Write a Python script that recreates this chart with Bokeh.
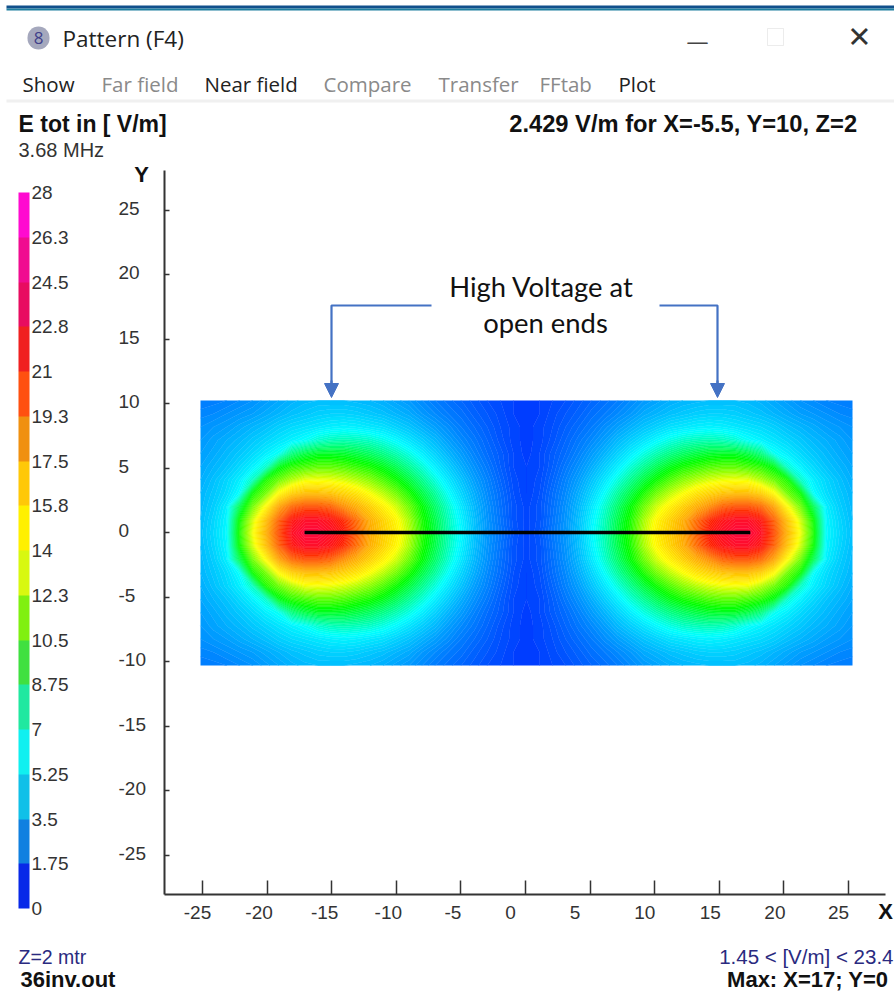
import numpy as np
from bokeh.embed import file_html
from bokeh.resources import INLINE
from bokeh.plotting import figure
from bokeh.core.properties import value
from bokeh.models import (Range1d, Label, BoxAnnotation, ColorBar, LinearColorMapper, FixedTicker,
                          Arrow, NormalHead)

# ---- data ----
menu_items = ["Show", "Far field", "Near field", "Compare", "Transfer", "FFtab", "Plot"]
x_ticks = [-25, -20, -15, -10, -5, 0, 5, 10, 15, 20, 25]
y_ticks = [-25, -20, -15, -10, -5, 0, 5, 10, 15, 20, 25]
scale_ticks = [0, 1.75, 3.5, 5.25, 7, 8.75, 10.5, 12.25, 14, 15.75, 17.5, 19.25, 21, 22.75, 24.5, 26.25, 28]
scale_labels = ["0", "1.75", "3.5", "5.25", "7", "8.75", "10.5", "12.3", "14", "15.8", "17.5", "19.3", "21", "22.8", "24.5", "26.3", "28"]
scale_colors = ["#0828e8", "#1080e0", "#10c0e8", "#10f0f0", "#20e8a0", "#40e040", "#80f010", "#d8f810",
                "#fff000", "#ffc808", "#f09010", "#ff5010", "#f02020", "#e80c60", "#f00c90", "#ff0ad0"]
wire_x = [-17.1, 17.4]
wire_y = [0, 0]
grid_x = list(range(-25, 26))
grid_y = list(range(-10, 11))

# field magnitude, one quadrant: rows Y=0..10, columns |X|=0..25
field_quadrant = [
 [1.8,2.3,3.2,4.1,5.3,6.8,8.0,9.6,11.0,13.0,14.5,15.6,16.8,19.0,21.5,22.6,23.4,23.4,22.4,19.6,16.5,13.8,10.9,6.8,5.9,5.2],
 [1.8,2.2,3.1,4.0,5.2,6.6,7.9,9.4,10.8,12.7,14.2,15.4,16.6,18.6,20.5,21.8,22.5,22.5,21.5,19.0,16.0,13.3,10.6,6.7,5.8,5.1],
 [1.8,2.2,3.0,3.9,5.0,6.3,7.6,9.0,10.4,11.9,13.3,14.4,15.5,16.6,17.7,19.0,19.5,19.5,18.8,17.0,14.1,12.0,9.4,6.5,5.6,5.0],
 [1.7,2.1,2.9,3.7,4.7,5.8,7.0,8.3,9.5,10.8,12.0,13.0,13.9,14.8,15.4,15.9,16.1,16.1,15.5,14.1,12.0,10.6,7.0,6.0,5.4,4.9],
 [1.7,2.0,2.7,3.5,4.3,5.3,6.3,7.4,8.5,9.6,10.6,11.5,12.3,12.9,13.4,13.7,13.8,13.7,12.9,11.9,10.8,7.8,6.5,5.8,5.2,4.7],
 [1.7,1.9,2.5,3.2,3.9,4.7,5.6,6.5,7.5,8.4,9.3,10.1,10.7,11.1,11.5,11.7,11.7,11.4,11.0,10.1,7.6,6.6,5.9,5.3,4.9,4.5],
 [1.6,1.9,2.4,2.9,3.5,4.2,4.9,5.7,6.5,7.3,8.0,8.6,9.1,9.5,9.8,9.9,9.9,9.5,8.7,7.1,6.5,5.9,5.4,5.0,4.6,4.3],
 [1.6,1.8,2.2,2.7,3.2,3.7,4.3,5.0,5.6,6.2,6.8,7.3,7.7,7.9,8.0,7.9,7.6,7.0,6.6,6.2,5.8,5.4,5.0,4.7,4.4,4.1],
 [1.6,1.8,2.1,2.5,2.9,3.3,3.8,4.3,4.8,5.3,5.7,6.1,6.3,6.5,6.6,6.5,6.3,6.1,5.9,5.6,5.2,4.9,4.6,4.3,4.1,3.9],
 [1.6,1.7,2.0,2.3,2.6,3.0,3.3,3.7,4.1,4.6,4.9,5.2,5.4,5.6,5.7,5.7,5.6,5.4,5.2,4.9,4.6,4.3,4.1,3.9,3.7,3.6],
 [1.6,1.7,1.9,2.1,2.4,2.7,3.0,3.3,3.7,4.1,4.4,4.7,4.9,5.0,5.1,5.1,5.1,5.0,4.8,4.5,4.2,3.9,3.7,3.5,3.4,3.3],
]

# ---- geometry: the frame fills the canvas, so the axes are placed at fixed data positions ----
W, H = 894, 993
L, R, T, B = 164, 885, 170, 894   # where the axis lines run, in page pixels
x0, y0 = 525.0, 532.0
xs, ys = 12.92, 12.9
PX = lambda px: (px - x0) / xs
PY = lambda py: (y0 - py) / ys

p = figure(width=W, height=H, output_backend="svg", toolbar_location=None,
           x_range=Range1d(PX(0), PX(W)), y_range=Range1d(PY(H), PY(0)),
           min_border=0, background_fill_color="white", border_fill_color="white", outline_line_color=None)
p.grid.visible = False

# axes
for ax, ticks in ((p.xaxis[0], x_ticks), (p.yaxis[0], y_ticks)):
    ax.ticker = FixedTicker(ticks=ticks)
    ax.major_label_overrides = {t: "" for t in ticks}
    ax.axis_line_color = "#333333"
    ax.axis_line_width = 2
    ax.major_tick_line_color = "#333333"
    ax.major_tick_line_width = 1.5
    ax.minor_tick_line_color = None
    ax.major_tick_out = 0
p.xaxis[0].fixed_location = PY(B)
p.xaxis[0].bounds = (PX(L), PX(R))
p.xaxis[0].major_tick_in = 14
p.yaxis[0].fixed_location = PX(L)
p.yaxis[0].bounds = (PY(B), PY(T))
p.yaxis[0].major_tick_in = 5

# tick labels (the picture sets them left of the ticks, unevenly)
x_label_shift = [-5, -8, -7, -8, -8, -15, -15, -10, -9, -9, -10]
p.text(x=x_ticks, y=[PY(912)] * len(x_ticks), text=[str(t) for t in x_ticks], x_offset=x_label_shift,
       text_font=value("Liberation Sans"), text_font_size="19px", text_color="#333333",
       text_align="center", text_baseline="middle")
p.text(x=[PX(118)] * len(y_ticks), y=y_ticks, text=[str(t) for t in y_ticks], y_offset=-2,
       text_font=value("Liberation Sans"), text_font_size="19px", text_color="#333333",
       text_align="left", text_baseline="middle")

# field map, drawn as finely spaced filled contours of the estimated grid
top = np.array(field_quadrant)
right = np.vstack([top[:0:-1], top])          # Y = -10..10
full = np.hstack([right[:, :0:-1], right])    # X = -25..25
anchors = [(0, (0, 0, 255)), (7, (0, 255, 255)), (10.5, (0, 255, 0)), (14, (255, 255, 0)),
           (17.5, (255, 150, 0)), (21, (255, 30, 0)), (24.5, (255, 0, 90)), (28, (255, 0, 255))]
levels = list(np.arange(1.5, 23.6, 0.2))
mids = np.array(levels)
chan = [np.interp(mids, [a[0] for a in anchors], [a[1][i] for a in anchors]) for i in range(3)]
line_cols = ["#%02x%02x%02x" % (int(r), int(g), int(b)) for r, g, b in zip(*chan)]
xl, xh, yl, yh = PX(200), PX(852), PY(665), PY(400)
gx = np.linspace(xl, xh, len(grid_x))
gy = np.linspace(yl, yh, len(grid_y))
p.contour(gx, gy, full, levels, fill_color=line_cols[1:], line_color=line_cols, line_width=0.6)

# antenna wire
p.line(wire_x, wire_y, line_color="black", line_width=3.5, line_cap="butt")

# callout
BLUE = "#4472c4"
p.line([PX(431), PX(331), PX(331)], [PY(305), PY(305), PY(384)], line_color=BLUE, line_width=2.2)
p.line([PX(659), PX(717), PX(717)], [PY(305), PY(305), PY(384)], line_color=BLUE, line_width=2.2)
for px in (331, 717):
    p.add_layout(Arrow(end=NormalHead(size=14, fill_color=BLUE, line_color=BLUE),
                       line_color=BLUE, line_width=2.2,
                       x_start=PX(px), y_start=PY(380), x_end=PX(px), y_end=PY(397)))

# colour scale
cb = ColorBar(color_mapper=LinearColorMapper(palette=scale_colors, low=0, high=28),
              ticker=FixedTicker(ticks=scale_ticks),
              major_label_overrides={t: s for t, s in zip(scale_ticks, scale_labels)},
              width=11, height=716, padding=0, margin=0, location=(18, H - 908),
              major_tick_line_color=None, bar_line_color=None, border_line_color=None,
              background_fill_color=None, major_label_text_font="Liberation Sans",
              major_label_text_font_size="19px", major_label_text_color="#333333",
              label_standoff=2)
p.add_layout(cb)

def txt(s, x, y, size, color="#222222", font="Liberation Sans", style="normal", align="left"):
    p.add_layout(Label(x=x, y=y, x_units="canvas", y_units="canvas", text=s, text_font=font,
                       text_font_size=f"{size}px", text_color=color, text_font_style=style,
                       text_align=align, text_baseline="middle"))

def box(l, r, t, b, fill=None, line=None, radius=0):
    p.add_layout(BoxAnnotation(left=l, right=r, top=t, bottom=b, left_units="canvas", right_units="canvas",
                               top_units="canvas", bottom_units="canvas", fill_color=fill, fill_alpha=1.0,
                               line_color=line, line_width=1, level="underlay", border_radius=radius))

# window chrome
box(6, 894, 5, 8, fill="#12508c")
box(6, 894, 8, 10, fill="#1f7f9f")
box(27, 49, 26, 49, fill="#a5a8bd", radius=11)
txt("8", 38, 37, 17, color="#40408a", font="Open Sans", align="center")
txt("Pattern  (F4)", 62, 38, 22.5, color="#222222", font="Open Sans")
txt("\u2014", 697, 39, 22, color="#444444", font="Open Sans", align="center")
box(767, 783, 28, 45, line="#bfbfbf")
txt("\u2715", 859, 36, 29, color="#333333", font="DejaVu Sans", align="center")
menu_x = [22, 101, 204, 323, 438, 539, 618]
menu_col = ["#222222", "#8a8a8a", "#222222", "#8a8a8a", "#8a8a8a", "#8a8a8a", "#222222"]
for s, x, c in zip(menu_items, menu_x, menu_col):
    txt(s, x, 83, 20.5, color=c, font="Open Sans")
box(6, 894, 99, 102, fill="#f0f0f0")

# texts
txt("E tot in [ V/m]", 18, 123, 23, color="#111111", style="bold")
txt("3.68 MHz", 18, 149, 20, color="#333333")
txt("2.429  V/m for X=-5.5, Y=10, Z=2", 863.6, 123, 23.7, color="#111111", style="bold", align="right")
txt("Y", 141, 174, 22, color="#111111", style="bold", align="center")
txt("X", 885, 911, 22, color="#111111", style="bold", align="center")
txt("Z=2 mtr", 18, 956, 19.5, color="#2a2a80")
txt("36inv.out", 20, 979, 22, color="#111111", style="bold")
txt("1.45 < [V/m] < 23.4", 893, 956, 20.5, color="#2a2a80", align="right")
txt("Max: X=17; Y=0", 888, 979, 22, color="#111111", style="bold", align="right")
txt("High Voltage at", 541, 286, 27.4, color="#111111", font="Lato", align="center")
txt("open ends", 545, 322, 27.4, color="#111111", font="Lato", align="center")

open("out.html", "w").write(file_html(p, INLINE))
